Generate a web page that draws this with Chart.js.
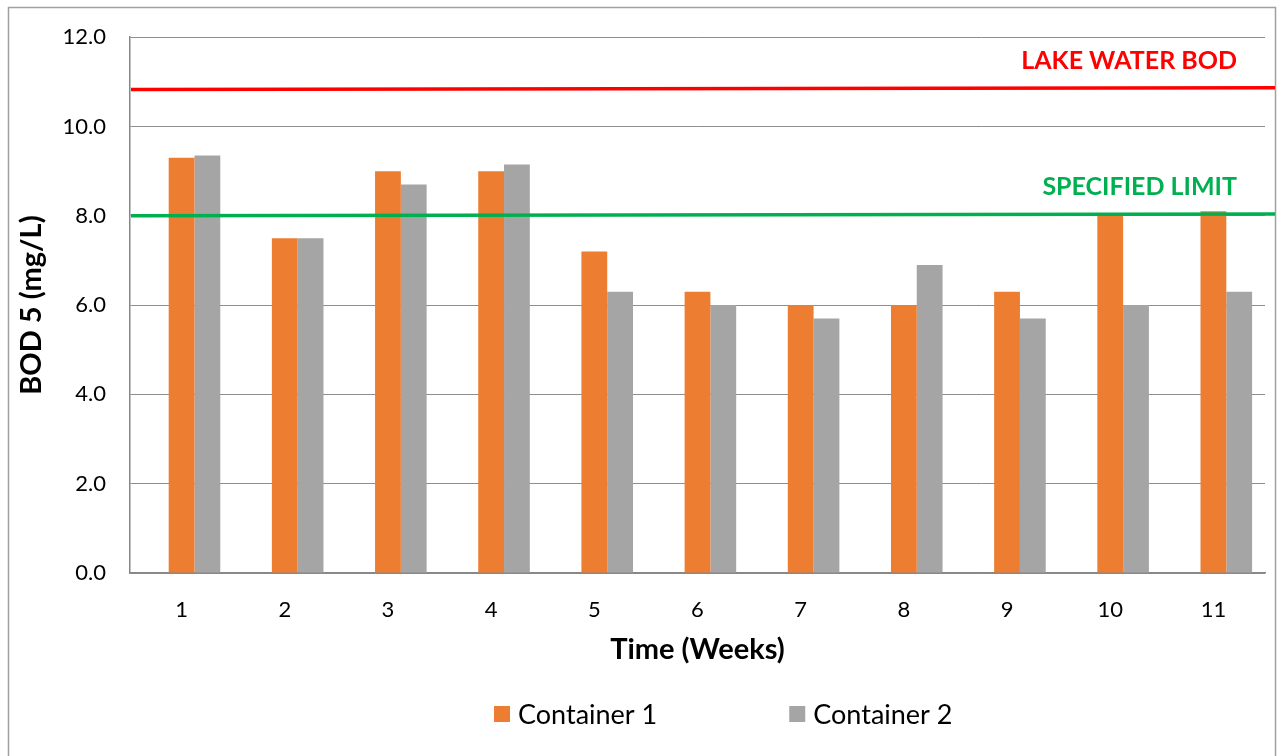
<!DOCTYPE html>
<html>
<head>
<meta charset="utf-8">
<script src="https://cdn.jsdelivr.net/npm/chart.js@4/dist/chart.umd.min.js"></script>
<style>
  html, body { margin: 0; padding: 0; background: #fff; }
  #wrap { width: 1280px; height: 756px; position: relative; }
</style>
</head>
<body>
<div id="wrap"><canvas id="bodChart" width="1280" height="756"></canvas></div>
<script>
// weeks and BOD5 readings (mg/L)
const weeks = ['1', '2', '3', '4', '5', '6', '7', '8', '9', '10', '11'];
const container1 = [9.3, 7.5, 9.0, 9.0, 7.2, 6.3, 6.0, 6.0, 6.3, 8.0, 8.1];
const container2 = [9.35, 7.5, 8.7, 9.15, 6.3, 6.0, 5.7, 6.9, 5.7, 6.0, 6.3];

// reference lines: value at left end, value at right end
const refNames = ['LAKE WATER BOD', 'SPECIFIED LIMIT'];
const refStart = [10.83, 8.0];
const refEnd = [10.87, 8.04];
const refColors = ['#FF0000', '#00B050'];

const FONT = 'Lato, "Open Sans", sans-serif';

// outer frame, reference lines with captions, and the legend
const extrasPlugin = {
    id: 'extras',
    beforeDraw(chart) {
        const ctx = chart.ctx;
        ctx.save();
        ctx.strokeStyle = '#A0A0A0';
        ctx.lineWidth = 1.5;
        ctx.strokeRect(8.5, 7.5, 1267, 760);
        ctx.restore();
    },
    afterDatasetsDraw(chart) {
        const ctx = chart.ctx;
        const y = chart.scales.y;
        const area = chart.chartArea;
        const xEnd = 1275;
        ctx.save();
        refNames.forEach((name, i) => {
            const y0 = y.getPixelForValue(refStart[i]);
            const y1 = y.getPixelForValue(refEnd[i]);
            ctx.strokeStyle = refColors[i];
            ctx.lineWidth = 3.5;
            ctx.beginPath();
            ctx.moveTo(area.left + 1, y0);
            ctx.lineTo(xEnd, y1);
            ctx.stroke();

            ctx.fillStyle = refColors[i];
            ctx.font = 'bold 25px ' + FONT;
            ctx.textAlign = 'right';
            ctx.textBaseline = 'middle';
            ctx.fillText(name, 1237, y1 - 27);
        });

        // legend, Excel style: wide gap between the two entries
        ctx.font = '27px ' + FONT;
        ctx.textAlign = 'left';
        ctx.textBaseline = 'middle';
        let x = 494;
        const ly = 714;
        chart.data.datasets.filter(ds => ds.label).forEach(ds => {
            ctx.fillStyle = ds.backgroundColor;
            ctx.fillRect(x, ly - 8, 16, 16);
            ctx.fillStyle = '#000';
            ctx.fillText(ds.label, x + 24, ly + 1);
            x += 24 + ctx.measureText(ds.label).width + 132;
        });
        ctx.restore();
    }
};

new Chart(document.getElementById('bodChart'), {
    type: 'bar',
    data: {
        labels: weeks,
        datasets: [
            // empty slot so the bar pair sits a little right of the tick, as in the original
            { label: '', data: weeks.map(() => null), backgroundColor: 'rgba(0,0,0,0)' },
            { label: 'Container 1', data: container1, backgroundColor: '#ED7D31' },
            { label: 'Container 2', data: container2, backgroundColor: '#A5A5A5' }
        ]
    },
    options: {
        responsive: false,
        animation: false,
        categoryPercentage: 0.75,
        barPercentage: 1.0,
        layout: { padding: { left: 14, right: 15, top: 30, bottom: 87 } },
        scales: {
            x: {
                grid: { display: false, drawTicks: false },
                border: { color: '#868686', width: 1.5 },
                ticks: { color: '#000', font: { family: FONT, size: 22 }, padding: 24 },
                title: {
                    display: true, text: 'Time (Weeks)', color: '#000',
                    font: { family: FONT, size: 29, weight: 'bold' }, padding: { top: 0, bottom: 2 }
                },
                afterFit: s => { s.height = 96; }
            },
            y: {
                min: 0, max: 12,
                ticks: {
                    stepSize: 2, color: '#000', padding: 24,
                    font: { family: FONT, size: 22 },
                    callback: v => v.toFixed(1)
                },
                grid: { color: '#8E8E8E', lineWidth: 1, drawTicks: false },
                border: { color: '#868686', width: 1.5 },
                title: {
                    display: true, text: 'BOD 5 (mg/L)', color: '#000',
                    font: { family: FONT, size: 29, weight: 'bold' }, padding: { top: 0, bottom: 0 }
                },
                afterFit: s => { s.width = 116; }
            }
        },
        plugins: {
            legend: { display: false },
            tooltip: { enabled: false }
        }
    },
    plugins: [extrasPlugin]
});
</script>
</body>
</html>
